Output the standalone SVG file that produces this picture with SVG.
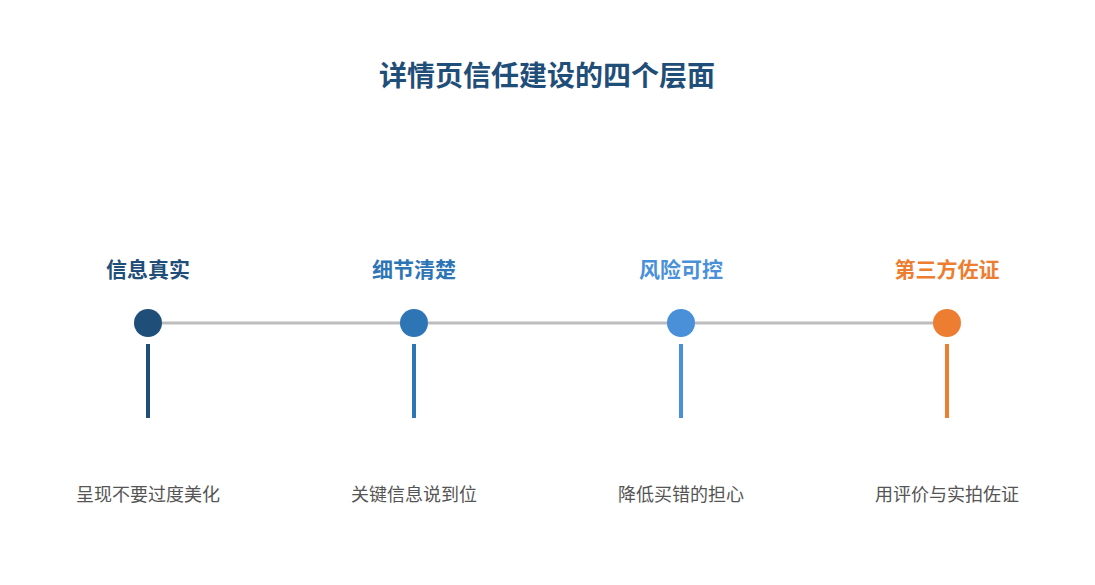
<svg xmlns="http://www.w3.org/2000/svg" width="1095" height="585" viewBox="0 0 1095 585">
<style>
.t{font-family:"Noto Sans CJK SC","Liberation Sans",sans-serif;text-anchor:middle}
.h{font-size:21px;font-weight:bold}
.d{font-size:18px;fill:#555}
.c{stroke:#bdbdbd;stroke-width:3;fill:none}
</style>
<defs><marker id="a" markerWidth="8" markerHeight="8" refX="6" refY="4" orient="auto" markerUnits="userSpaceOnUse"><path d="M1,1 L6,4 L1,7" fill="none" stroke="#bdbdbd" stroke-width="2"/></marker></defs>
<rect width="1095" height="585" fill="#fff"/>
<text class="t" x="547" y="86" style="font-size:28px;font-weight:bold;fill:#1f4e79">详情页信任建设的四个层面</text>
<g id="connectors">
<line class="c" x1="162" y1="323" x2="406" y2="323" marker-end="url(#a)"/>
<line class="c" x1="428" y1="323" x2="673" y2="323" marker-end="url(#a)"/>
<line class="c" x1="695" y1="323" x2="939" y2="323" marker-end="url(#a)"/>
</g>
<g id="n1"><text class="t h" x="148" y="277" fill="#1f4e79">信息真实</text><circle cx="148" cy="323" r="14" fill="#1f4e79"/><rect x="146" y="344" width="4" height="74" fill="#1f4e79"/><text class="t d" x="148" y="501">呈现不要过度美化</text></g>
<g id="n2"><text class="t h" x="414" y="277" fill="#2e75b6">细节清楚</text><circle cx="414" cy="323" r="14" fill="#2e75b6"/><rect x="412" y="344" width="4" height="74" fill="#2e75b6"/><text class="t d" x="414" y="501">关键信息说到位</text></g>
<g id="n3"><text class="t h" x="681" y="277" fill="#4a90d9">风险可控</text><circle cx="681" cy="323" r="14" fill="#4a90d9"/><rect x="679" y="344" width="4" height="74" fill="#4a90d9"/><text class="t d" x="681" y="501">降低买错的担心</text></g>
<g id="n4"><text class="t h" x="947" y="277" fill="#ed7d31">第三方佐证</text><circle cx="947" cy="323" r="14" fill="#ed7d31"/><rect x="945" y="344" width="4" height="74" fill="#ed7d31"/><text class="t d" x="947" y="501">用评价与实拍佐证</text></g>
</svg>
